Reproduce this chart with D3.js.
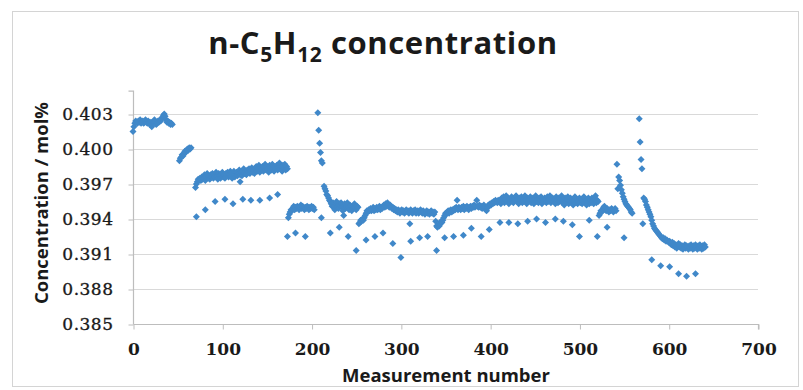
<!DOCTYPE html>
<html>
<head>
<meta charset="utf-8">
<script src="https://cdn.jsdelivr.net/npm/d3@7"></script>
<style>
  body { margin: 0; background: #ffffff; }
  svg { display: block; }
</style>
</head>
<body>
<svg id="chart" width="803" height="390"></svg>
<script>
// Axis ticks
const xTicks = [0, 100, 200, 300, 400, 500, 600, 700];
const yTicks = [0.385, 0.388, 0.391, 0.394, 0.397, 0.400, 0.403];

// Main measurement runs: first measurement number of each run, then its values (mol%)
const runStarts = [0, 52, 70, 174, 207, 214, 253, 263, 339, 411, 522, 542, 567, 572];

const runA = [0.4015, 0.4019, 0.4022, 0.4024, 0.4023, 0.4022, 0.4024, 0.4023, 0.4025, 0.4022,
  0.4023, 0.4024, 0.4022, 0.4023, 0.4025, 0.4023, 0.4022, 0.4024, 0.4023, 0.4021,
  0.4023, 0.4019, 0.4022, 0.4023, 0.4025, 0.4023, 0.4021, 0.4022, 0.4024, 0.4023,
  0.4025, 0.4024, 0.4026, 0.4027, 0.4029, 0.4030, 0.4028, 0.4025, 0.4023, 0.4024,
  0.4022, 0.4023, 0.4021, 0.4022, 0.4021];

const runB = [0.3990, 0.3992, 0.3993, 0.3995, 0.3994, 0.3996, 0.3998, 0.3997, 0.3999, 0.4000,
  0.3999, 0.4001, 0.4000, 0.4001];

const runC = [0.3967, 0.3970, 0.3972, 0.3974, 0.3973, 0.3975, 0.3973, 0.3976, 0.3974, 0.3975,
  0.3978, 0.3973, 0.3976, 0.3979, 0.3975, 0.3977, 0.3974, 0.3978, 0.3976, 0.3979,
  0.3975, 0.3978, 0.3976, 0.3980, 0.3977, 0.3974, 0.3979, 0.3977, 0.3975, 0.3978,
  0.3980, 0.3976, 0.3978, 0.3975, 0.3979, 0.3977, 0.3980, 0.3976, 0.3978, 0.3981,
  0.3977, 0.3975, 0.3979, 0.3981, 0.3976, 0.3978, 0.3980, 0.3977, 0.3979, 0.3982,
  0.3978, 0.3980, 0.3977, 0.3981, 0.3983, 0.3979, 0.3981, 0.3978, 0.3982, 0.3980,
  0.3983, 0.3979, 0.3981, 0.3984, 0.3980, 0.3982, 0.3979, 0.3983, 0.3985, 0.3981,
  0.3983, 0.3986, 0.3980, 0.3984, 0.3982, 0.3985, 0.3981, 0.3984, 0.3987, 0.3982,
  0.3985, 0.3983, 0.3980, 0.3986, 0.3984, 0.3982, 0.3987, 0.3983, 0.3981, 0.3985,
  0.3983, 0.3986, 0.3982, 0.3984, 0.3988, 0.3983, 0.3985, 0.3981, 0.3986, 0.3984,
  0.3987, 0.3982, 0.3985, 0.3983];

const runD = [0.3941, 0.3944, 0.3946, 0.3948, 0.3947, 0.3949, 0.3951, 0.3948, 0.3950, 0.3949,
  0.3951, 0.3950, 0.3948, 0.3950, 0.3952, 0.3949, 0.3951, 0.3950, 0.3948, 0.3950,
  0.3949, 0.3951, 0.3950, 0.3948, 0.3950, 0.3949, 0.3951, 0.3949, 0.3950, 0.3948];

const spikeE = [0.4031, 0.4016, 0.4005, 0.3997, 0.3990, 0.3988];

const runF = [0.3968, 0.3966, 0.3964, 0.3961, 0.3960, 0.3958, 0.3956, 0.3955, 0.3953, 0.3951,
  0.3954, 0.3950, 0.3948, 0.3953, 0.3955, 0.3951, 0.3949, 0.3953, 0.3951, 0.3954,
  0.3950, 0.3947, 0.3951, 0.3953, 0.3949, 0.3951, 0.3954, 0.3950, 0.3948, 0.3952,
  0.3951, 0.3947, 0.3951, 0.3949, 0.3953, 0.3950, 0.3948, 0.3951, 0.3950];

const runG = [0.3936, 0.3937, 0.3939, 0.3938, 0.3940, 0.3939, 0.3941, 0.3943, 0.3945, 0.3947];

const runH = [0.3946, 0.3948, 0.3947, 0.3949, 0.3947, 0.3948, 0.3950, 0.3947, 0.3949, 0.3948,
  0.3950, 0.3948, 0.3949, 0.3951, 0.3948, 0.3950, 0.3949, 0.3951, 0.3952, 0.3950,
  0.3953, 0.3951, 0.3954, 0.3952, 0.3950, 0.3952, 0.3951, 0.3949, 0.3950, 0.3948,
  0.3949, 0.3947, 0.3948, 0.3946, 0.3948, 0.3947, 0.3945, 0.3947, 0.3948, 0.3946,
  0.3947, 0.3945, 0.3946, 0.3948, 0.3946, 0.3947, 0.3945, 0.3946, 0.3948, 0.3946,
  0.3945, 0.3947, 0.3946, 0.3948, 0.3945, 0.3946, 0.3947, 0.3945, 0.3946, 0.3948,
  0.3946, 0.3945, 0.3947, 0.3946, 0.3944, 0.3946, 0.3947, 0.3945, 0.3946, 0.3944,
  0.3946, 0.3947, 0.3945, 0.3946, 0.3944, 0.3946];

const runI = [0.3938, 0.3934, 0.3933, 0.3935, 0.3934, 0.3936, 0.3938, 0.3937, 0.3939, 0.3941,
  0.3943, 0.3945, 0.3944, 0.3946, 0.3947, 0.3945, 0.3947, 0.3948, 0.3946, 0.3948,
  0.3947, 0.3949, 0.3948, 0.3950, 0.3956, 0.3948, 0.3950, 0.3949, 0.3948, 0.3950,
  0.3949, 0.3951, 0.3948, 0.3950, 0.3949, 0.3951, 0.3950, 0.3948, 0.3950, 0.3951,
  0.3949, 0.3951, 0.3950, 0.3952, 0.3950, 0.3951, 0.3956, 0.3951, 0.3950, 0.3952,
  0.3950, 0.3951, 0.3949, 0.3951, 0.3952, 0.3950, 0.3948, 0.3947, 0.3950, 0.3952,
  0.3951, 0.3953, 0.3952, 0.3954, 0.3953, 0.3955, 0.3954, 0.3956, 0.3955, 0.3954,
  0.3956, 0.3955];

const runJ = [0.3956, 0.3953, 0.3958, 0.3955, 0.3959, 0.3954, 0.3957, 0.3960, 0.3955, 0.3958,
  0.3953, 0.3957, 0.3955, 0.3959, 0.3956, 0.3954, 0.3958, 0.3956, 0.3960, 0.3955,
  0.3957, 0.3953, 0.3958, 0.3956, 0.3959, 0.3954, 0.3957, 0.3955, 0.3960, 0.3956,
  0.3953, 0.3958, 0.3955, 0.3957, 0.3959, 0.3954, 0.3956, 0.3958, 0.3953, 0.3957,
  0.3960, 0.3955, 0.3957, 0.3954, 0.3958, 0.3956, 0.3959, 0.3953, 0.3957, 0.3955,
  0.3958, 0.3956, 0.3954, 0.3959, 0.3955, 0.3957, 0.3960, 0.3954, 0.3956, 0.3958,
  0.3955, 0.3957, 0.3953, 0.3959, 0.3956, 0.3954, 0.3958, 0.3955, 0.3957, 0.3960,
  0.3954, 0.3956, 0.3952, 0.3958, 0.3955, 0.3957, 0.3959, 0.3953, 0.3956, 0.3958,
  0.3954, 0.3957, 0.3952, 0.3956, 0.3959, 0.3954, 0.3957, 0.3953, 0.3955, 0.3958,
  0.3954, 0.3957, 0.3953, 0.3955, 0.3959, 0.3954, 0.3956, 0.3952, 0.3955, 0.3958,
  0.3953, 0.3956, 0.3954, 0.3958, 0.3955, 0.3953, 0.3957, 0.3960, 0.3954, 0.3956,
  0.3955];

const runK = [0.3943, 0.3945, 0.3947, 0.3946, 0.3948, 0.3950, 0.3951, 0.3948, 0.3947, 0.3949,
  0.3948, 0.3946, 0.3948, 0.3947, 0.3949, 0.3948, 0.3946, 0.3948, 0.3949, 0.3947];

const spikeL = [0.3987, 0.3966, 0.3976, 0.3973, 0.3969, 0.3965, 0.3962, 0.3959, 0.3957, 0.3955,
  0.3953, 0.3952, 0.3951, 0.3950, 0.3949, 0.3948, 0.3946, 0.3945];

const spikeM = [0.4026, 0.4006, 0.3991, 0.3983];

const runN = [0.3958, 0.3957, 0.3955, 0.3952, 0.3950, 0.3948, 0.3946, 0.3944, 0.3942, 0.3939,
  0.3936, 0.3934, 0.3932, 0.3931, 0.3930, 0.3929, 0.3928, 0.3927, 0.3926, 0.3925,
  0.3924, 0.3923, 0.3924, 0.3922, 0.3923, 0.3921, 0.3922, 0.3921, 0.3920, 0.3921,
  0.3919, 0.3918, 0.3920, 0.3917, 0.3919, 0.3916, 0.3918, 0.3915, 0.3917, 0.3919,
  0.3916, 0.3918, 0.3915, 0.3917, 0.3914, 0.3916, 0.3918, 0.3915, 0.3917, 0.3916,
  0.3914, 0.3917, 0.3915, 0.3918, 0.3916, 0.3914, 0.3917, 0.3915, 0.3918, 0.3916,
  0.3914, 0.3917, 0.3915, 0.3918, 0.3916, 0.3914, 0.3917, 0.3915, 0.3918, 0.3916];

const runValues = [runA, runB, runC, runD, spikeE, runF, runG, runH, runI, runJ, runK, spikeL, spikeM, runN];

// Periodic check measurements sitting below the main runs
const lowN = [71, 81, 92, 103, 112, 120, 123, 132, 142, 153, 162, 173, 182, 193, 211, 221, 231, 236,
  241, 250, 261, 271, 280, 291, 300, 310, 311, 321, 330, 340, 349, 359, 370, 379, 390, 399,
  411, 421, 431, 442, 452, 462, 473, 482, 492, 500, 511, 520, 531, 550, 571, 581, 591, 601,
  611, 620, 630];
const lowV = [0.3942, 0.3948, 0.3955, 0.3957, 0.3953, 0.3972, 0.3957, 0.3956, 0.3956, 0.3958, 0.3961,
  0.3925, 0.3928, 0.3925, 0.3941, 0.3928, 0.3933, 0.3943, 0.3925, 0.3913, 0.3922, 0.3925,
  0.3928, 0.3919, 0.3907, 0.3936, 0.3921, 0.3924, 0.3925, 0.3913, 0.3924, 0.3925, 0.3926,
  0.3932, 0.3925, 0.3931, 0.3937, 0.3937, 0.3936, 0.3938, 0.3940, 0.3937, 0.3940, 0.3938,
  0.3935, 0.3925, 0.3939, 0.3925, 0.3933, 0.3924, 0.3936, 0.3905, 0.3900, 0.3899, 0.3893,
  0.3891, 0.3893];

const xTitle = "Measurement number";
const yTitle = "Concentration / mol%";

// ---- drawing ----
const svg = d3.select("#chart");
const W = 803, H = 390;
const plot = { left: 133, right: 758, top: 90.7, bottom: 324 };
const markColor = "#4088c9";
const tickFont = "'DejaVu Serif', serif";
const labelFont = "'Open Sans', 'Noto Sans', sans-serif";

svg.append("rect").attr("x", 0).attr("y", 0).attr("width", W).attr("height", H).attr("fill", "#fff");
svg.append("rect")
  .attr("x", 12.5).attr("y", 11.5).attr("width", 786).attr("height", 375)
  .attr("fill", "none").attr("stroke", "#d4d4d4").attr("stroke-width", 1);

const x = d3.scaleLinear().domain([0, 700]).range([plot.left, plot.right]);
const y = d3.scaleLinear().domain([0.385, 0.405]).range([plot.bottom, plot.top]);

// horizontal gridlines
svg.append("g")
  .selectAll("line")
  .data(yTicks.slice(1))
  .join("line")
  .attr("x1", plot.left).attr("x2", plot.right)
  .attr("y1", d => Math.round(y(d)) + 0.5).attr("y2", d => Math.round(y(d)) + 0.5)
  .attr("stroke", "#d9d9d9").attr("stroke-width", 1.2);

// y axis
const yAxis = d3.axisLeft(y).tickValues(yTicks).tickFormat(d3.format(".3f")).tickSize(5).tickPadding(15);
const gy = svg.append("g").attr("transform", `translate(${plot.left + 0.5},0.5)`).call(yAxis);
gy.attr("font-family", null).attr("font-size", null);
gy.select(".domain").attr("d", `M-5,${plot.top}H0V${plot.bottom}`).attr("stroke", "#bdbdbd").attr("stroke-width", 1.2);
gy.selectAll(".tick line").attr("stroke", "#bdbdbd");
gy.selectAll(".tick text")
  .style("font-family", tickFont)
  .style("font-size", "17px")
  .style("letter-spacing", "0.5px")
  .attr("fill", "#1a1a1a")
  .attr("stroke", "#1a1a1a").attr("stroke-width", 0.35);

// x axis
const xAxis = d3.axisBottom(x).tickValues(xTicks).tickFormat(d3.format("d")).tickSize(5).tickPadding(13);
const gx = svg.append("g").attr("transform", `translate(0.5,${plot.bottom + 0.5})`).call(xAxis);
gx.attr("font-family", null).attr("font-size", null);
gx.select(".domain").attr("d", `M${plot.left},0H${plot.right}V5`).attr("stroke", "#bdbdbd").attr("stroke-width", 1.2);
gx.selectAll(".tick line").attr("stroke", "#bdbdbd");
gx.selectAll(".tick text")
  .style("font-family", tickFont)
  .style("font-size", "17px")
  .style("font-weight", "bold")
  .attr("fill", "#1a1a1a");

// points
const mainPoints = runValues.flatMap((vals, k) => vals.map((v, i) => ({ n: runStarts[k] + i, v })));
const lowPoints = lowN.map((n, i) => ({ n, v: lowV[i] }));
const r = 3.5;
const diamond = `M0,${-r}L${r},0L0,${r}L${-r},0Z`;

svg.append("g")
  .selectAll("path")
  .data(mainPoints.concat(lowPoints))
  .join("path")
  .attr("d", diamond)
  .attr("transform", d => `translate(${x(d.n)},${y(d.v)})`)
  .attr("fill", markColor);

// chart title with subscripted formula
const title = svg.append("text")
  .attr("x", 383).attr("y", 54)
  .attr("text-anchor", "middle")
  .style("font-family", labelFont)
  .style("font-weight", "bold")
  .style("letter-spacing", "0.6px")
  .attr("fill", "#1a1a1a");
const titleParts = [
  { t: "n-C", sub: false }, { t: "5", sub: true }, { t: "H", sub: false },
  { t: "12", sub: true }, { t: " concentration", sub: false }
];
titleParts.forEach((p, i) => {
  title.append("tspan")
    .style("font-size", p.sub ? "21px" : "31px")
    .attr("dy", p.sub ? 8 : (i === 0 ? 0 : -8))
    .text(p.t);
});

svg.append("text")
  .attr("x", 446).attr("y", 382)
  .attr("text-anchor", "middle")
  .style("font-family", labelFont)
  .style("font-weight", "bold").style("font-size", "18.5px")
  .attr("fill", "#1a1a1a")
  .text(xTitle);

svg.append("text")
  .attr("transform", "translate(48,203) rotate(-90)")
  .attr("text-anchor", "middle")
  .style("font-family", labelFont)
  .style("font-weight", "bold").style("font-size", "18.5px")
  .attr("fill", "#1a1a1a")
  .text(yTitle);
</script>
</body>
</html>
